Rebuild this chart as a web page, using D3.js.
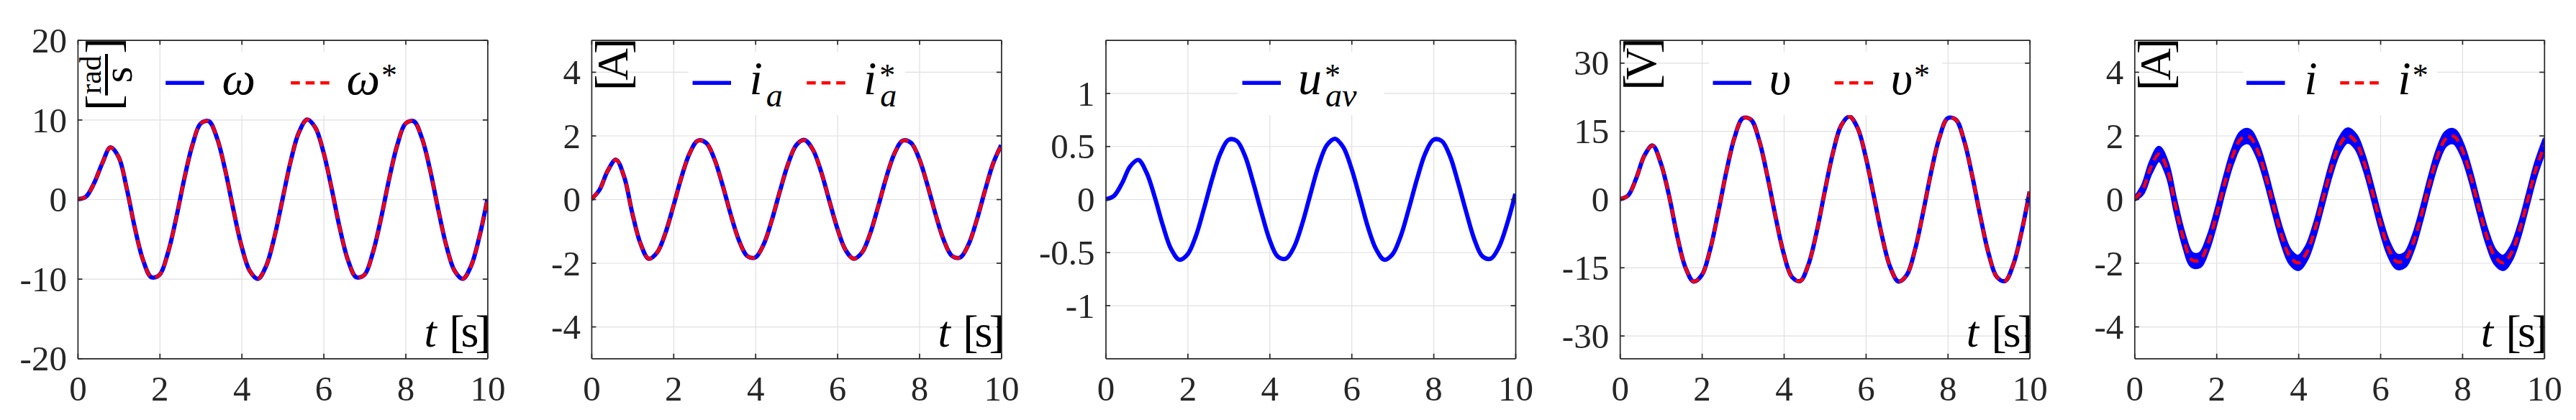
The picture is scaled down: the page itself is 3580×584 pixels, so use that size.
<!DOCTYPE html>
<html><head><meta charset="utf-8">
<script src="https://cdn.jsdelivr.net/npm/d3@7"></script>
<style>
body{margin:0;background:#fff}
svg{display:block}
svg text, svg tspan{font-family:"Liberation Serif","Times New Roman","DejaVu Serif",serif;}
</style>
</head><body>
<svg id="chart" width="3580" height="584"></svg>
<script>
// ---------------- data ----------------
const time = [0,0.2,0.4,0.6,0.8,1.0,1.2,1.4,1.6,1.8,2.0,2.2,2.4,2.6,2.8,3.0,3.2,3.4,3.6,3.8,4.0,4.2,4.4,4.6,4.8,5.0,5.2,5.4,5.6,5.8,6.0,6.2,6.4,6.6,6.8,7.0,7.2,7.4,7.6,7.8,8.0,8.2,8.4,8.6,8.8,9.0,9.2,9.4,9.6,9.8,10.0];

const omega    = [0,0.3,2.0,4.5,6.5,5.3,1.3,-3.7,-7.7,-9.8,-9.5,-6.8,-2.5,2.5,6.8,9.5,9.8,7.7,3.7,-1.3,-5.9,-9.0,-10.0,-8.4,-4.8,0,4.8,8.4,10.0,9.0,5.9,1.3,-3.7,-7.7,-9.8,-9.5,-6.8,-2.5,2.5,6.8,9.5,9.8,7.7,3.7,-1.3,-5.9,-9.0,-10.0,-8.4,-4.8,0];
const omegaRef = [0,0.3,2.0,4.5,6.5,5.3,1.3,-3.7,-7.7,-9.8,-9.5,-6.8,-2.5,2.5,6.8,9.5,9.8,7.7,3.7,-1.3,-5.9,-9.0,-10.0,-8.4,-4.8,0,4.8,8.4,10.0,9.0,5.9,1.3,-3.7,-7.7,-9.8,-9.5,-6.8,-2.5,2.5,6.8,9.5,9.8,7.7,3.7,-1.3,-5.9,-9.0,-10.0,-8.4,-4.8,0];

const iA    = [0,0.3,0.9,1.24,0.7,-0.45,-1.4,-1.87,-1.68,-1.09,-0.22,0.70,1.45,1.84,1.77,1.27,0.45,-0.48,-1.29,-1.78,-1.83,-1.43,-0.67,0.25,1.11,1.70,1.86,1.57,0.89,-0.02,-0.91,-1.59,-1.87,-1.68,-1.09,-0.22,0.70,1.45,1.84,1.77,1.27,0.45,-0.48,-1.29,-1.78,-1.83,-1.43,-0.67,0.25,1.11,1.70];
const iARef = [0,0.3,0.9,1.24,0.7,-0.45,-1.4,-1.87,-1.68,-1.09,-0.22,0.70,1.45,1.84,1.77,1.27,0.45,-0.48,-1.29,-1.78,-1.83,-1.43,-0.67,0.25,1.11,1.70,1.86,1.57,0.89,-0.02,-0.91,-1.59,-1.87,-1.68,-1.09,-0.22,0.70,1.45,1.84,1.77,1.27,0.45,-0.48,-1.29,-1.78,-1.83,-1.43,-0.67,0.25,1.11,1.70];

const uAvRef = [0,0.03,0.15,0.31,0.37,0.25,0.02,-0.25,-0.47,-0.57,-0.52,-0.35,-0.09,0.19,0.43,0.56,0.55,0.41,0.16,-0.12,-0.38,-0.54,-0.56,-0.45,-0.23,0.05,0.32,0.51,0.57,0.49,0.29,0.02,-0.26,-0.47,-0.57,-0.52,-0.35,-0.09,0.19,0.43,0.56,0.55,0.41,0.16,-0.12,-0.38,-0.54,-0.56,-0.45,-0.23,0.05];

const volt    = [0,0.8,4.6,9.6,11.8,7.9,0.8,-8.1,-15.0,-18.1,-16.7,-11.2,-2.9,6.1,13.6,17.8,17.5,12.9,5.1,-3.9,-12.0,-17.1,-18.0,-14.4,-7.3,1.7,10.2,16.2,18.2,15.7,9.3,0.6,-8.2,-15.0,-18.1,-16.7,-11.2,-2.9,6.1,13.6,17.8,17.5,12.9,5.1,-3.9,-12.0,-17.1,-18.0,-14.4,-7.3,1.7];
const voltRef = [0,0.8,4.6,9.6,11.8,7.9,0.8,-8.1,-15.0,-18.1,-16.7,-11.2,-2.9,6.1,13.6,17.8,17.5,12.9,5.1,-3.9,-12.0,-17.1,-18.0,-14.4,-7.3,1.7,10.2,16.2,18.2,15.7,9.3,0.6,-8.2,-15.0,-18.1,-16.7,-11.2,-2.9,6.1,13.6,17.8,17.5,12.9,5.1,-3.9,-12.0,-17.1,-18.0,-14.4,-7.3,1.7];

const iMeas = [0,0.3,1.0,1.42,0.95,-0.2,-1.25,-1.9,-1.91,-1.38,-0.51,0.49,1.36,1.90,1.97,1.55,0.75,-0.24,-1.17,-1.81,-2.00,-1.69,-0.97,-0.01,0.95,1.68,2.00,1.81,1.18,0.26,-0.73,-1.54,-1.96,-1.91,-1.38,-0.51,0.49,1.36,1.90,1.97,1.55,0.75,-0.24,-1.17,-1.81,-2.00,-1.69,-0.97,-0.01,0.95,1.68];
const iRef  = [0,0.3,1.0,1.42,0.95,-0.2,-1.25,-1.9,-1.91,-1.38,-0.51,0.49,1.36,1.90,1.97,1.55,0.75,-0.24,-1.17,-1.81,-2.00,-1.69,-0.97,-0.01,0.95,1.68,2.00,1.81,1.18,0.26,-0.73,-1.54,-1.96,-1.91,-1.38,-0.51,0.49,1.36,1.90,1.97,1.55,0.75,-0.24,-1.17,-1.81,-2.00,-1.69,-0.97,-0.01,0.95,1.68];
// half-height of the switching ripple band around the measured current
const iRipple = [0.02,0.12,0.18,0.2,0.2,0.2,0.2,0.2,0.2,0.2,0.2,0.2,0.2,0.2,0.2,0.2,0.2,0.2,0.2,0.2,0.2,0.2,0.2,0.2,0.2,0.2,0.2,0.2,0.2,0.2,0.2,0.2,0.2,0.2,0.2,0.2,0.2,0.2,0.2,0.2,0.2,0.2,0.2,0.2,0.2,0.2,0.2,0.2,0.2,0.2,0.2];

const xTicks = [0,2,4,6,8,10];
const yTicksOmega = [-20,-10,0,10,20];
const yTicksIa    = [-4,-2,0,2,4];
const yTicksUav   = [-1,-0.5,0,0.5,1];
const yTicksVolt  = [-30,-15,0,15,30];
const yTicksI     = [-4,-2,0,2,4];
const yLimOmega = [-20,20], yLimIa = [-5,5], yLimUav = [-1.5,1.5], yLimVolt = [-35,35], yLimI = [-5,5];

// ---------------- layout / style ----------------
const W = 3580, H = 584;
const TOP = 55.7, BOT = 498.3, PW = 569.5;
const LEFTS = [107.9, 821.9, 1536.5, 2251.2, 2966.3];
const FONT = '"Liberation Serif","Times New Roman","DejaVu Serif",serif';
const AX = '#262626', GRID = '#dfdfdf', BLUE = '#0000ff', RED = '#ff0000';
const DASH = '12.5,8';

const panels = [
  { ylim: yLimOmega, yticks: yTicksOmega,
    series: [{ v: omega, kind: 'solid' }, { v: omegaRef, kind: 'dash' }],
    legend: { box: [115, 452], items: [
      { kind: 'solid', lx: 122.3, tx: 200.5, main: 'ω' },
      { kind: 'dash',  lx: 296.3, tx: 373.5, main: 'ω', sup: '*' }] },
    unit: { type: 'frac', cx: 40.1, cy: 103 }, tlabel: true },
  { ylim: yLimIa, yticks: yTicksIa,
    series: [{ v: iA, kind: 'solid' }, { v: iARef, kind: 'dash' }],
    legend: { box: [135, 436], items: [
      { kind: 'solid', lx: 140.6, tx: 219.5, main: 'i', sub: 'a' },
      { kind: 'dash',  lx: 299.3, tx: 378,   main: 'i', sub: 'a', sup: '*' }] },
    unit: { type: 'br', text: 'A', cx: 33.6, cy: 89.3 }, tlabel: true },
  { ylim: yLimUav, yticks: yTicksUav,
    series: [{ v: uAvRef, kind: 'solid' }],
    legend: { box: [184, 387], items: [
      { kind: 'solid', lx: 190, tx: 267.5, main: 'u', sub: 'av', sup: '*' }] },
    unit: null, tlabel: false },
  { ylim: yLimVolt, yticks: yTicksVolt,
    series: [{ v: volt, kind: 'solid' }, { v: voltRef, kind: 'dash' }],
    legend: { box: [124, 448], items: [
      { kind: 'solid', lx: 129.3, tx: 207.5, main: 'υ' },
      { kind: 'dash',  lx: 298.4, tx: 376.5, main: 'υ', sup: '*' }] },
    unit: { type: 'br', text: 'V', cx: 34, cy: 88.8 }, tlabel: true },
  { ylim: yLimI, yticks: yTicksI,
    series: [{ v: iMeas, kind: 'band', r: iRipple }, { v: iRef, kind: 'dash' }],
    legend: { box: [151, 421], items: [
      { kind: 'solid', lx: 155.7, tx: 236, main: 'i' },
      { kind: 'dash',  lx: 286,   tx: 366, main: 'i', sup: '*' }] },
    unit: { type: 'br', text: 'A', cx: 33.7, cy: 89.3 }, tlabel: true }
];

const svg = d3.select('#chart');
svg.append('rect').attr('width', W).attr('height', H).attr('fill', '#fff');
const defs = svg.append('defs');

function styleAxis(sel, strokeColor, width) {
  sel.attr('font-family', null).attr('font-size', 49).attr('color', AX);
  sel.selectAll('line').attr('stroke', strokeColor).attr('stroke-width', width);
  sel.selectAll('path').attr('stroke', strokeColor).attr('stroke-width', width);
  sel.selectAll('text').attr('fill', AX).style('font-family', FONT).style('font-size', '49px');
}
// one <text> made of absolutely placed pieces: [str, x, y, size, italic, anchor, letterSpacing]
function composite(parent, pieces) {
  const t = parent.append('text').attr('fill', '#000').style('font-family', FONT);
  pieces.forEach(pc => {
    const s = t.append('tspan').attr('x', pc[1]).attr('y', pc[2])
      .style('font-size', pc[3] + 'px').style('font-style', pc[4] ? 'italic' : 'normal')
      .attr('text-anchor', pc[5] || 'start').text(pc[0]);
    if (pc[6] != null) s.style('letter-spacing', pc[6] + 'px');
  });
  return t;
}
function measure(parent, str, size, italic) {
  const t = parent.append('text').style('font-family', FONT).style('font-size', size + 'px')
    .style('font-style', italic ? 'italic' : 'normal').text(str);
  const w = t.node().getComputedTextLength();
  t.remove();
  return w;
}

panels.forEach((p, k) => {
  const L = LEFTS[k], R = L + PW;
  const x = d3.scaleLinear().domain([0, 10]).range([L, R]);
  const y = d3.scaleLinear().domain(p.ylim).range([BOT, TOP]);
  const g = svg.append('g');

  // grid
  const gx = g.append('g').attr('transform', `translate(0,${BOT})`)
    .call(d3.axisBottom(x).tickValues(xTicks.slice(1, -1)).tickSize(-(BOT - TOP)).tickFormat(''));
  gx.select('.domain').remove();
  gx.selectAll('line').attr('stroke', GRID).attr('stroke-width', 1.2);
  const gy = g.append('g').attr('transform', `translate(${L},0)`)
    .call(d3.axisLeft(y).tickValues(p.yticks).tickSize(-PW).tickFormat(''));
  gy.select('.domain').remove();
  gy.selectAll('line').attr('stroke', GRID).attr('stroke-width', 1.2);

  // curves
  const clipId = 'clip' + k;
  defs.append('clipPath').attr('id', clipId).append('rect')
    .attr('x', L).attr('y', TOP).attr('width', PW).attr('height', BOT - TOP);
  const cg = g.append('g').attr('clip-path', `url(#${clipId})`);
  const line = d3.line().x((d, i) => x(time[i])).y(d => y(d)).curve(d3.curveCatmullRom);
  p.series.forEach(s => {
    if (s.kind === 'band') {
      const area = d3.area().x((d, i) => x(time[i]))
        .y0((d, i) => y(d - s.r[i])).y1((d, i) => y(d + s.r[i])).curve(d3.curveCatmullRom);
      cg.append('path').attr('d', area(s.v)).attr('fill', BLUE)
        .attr('stroke', BLUE).attr('stroke-width', 5).attr('stroke-linejoin', 'round');
      cg.append('path').attr('d', line(s.v)).attr('fill', 'none')
        .attr('stroke', BLUE).attr('stroke-width', 6);
    } else if (s.kind === 'solid') {
      cg.append('path').attr('d', line(s.v)).attr('fill', 'none')
        .attr('stroke', BLUE).attr('stroke-width', 6).attr('stroke-linejoin', 'round');
    } else {
      cg.append('path').attr('d', line(s.v)).attr('fill', 'none')
        .attr('stroke', RED).attr('stroke-width', 4.5).attr('stroke-dasharray', DASH);
    }
  });

  // axes (box + inward ticks on all sides)
  const ax = g.append('g').attr('transform', `translate(0,${BOT})`)
    .call(d3.axisBottom(x).tickValues(xTicks).tickSize(-6.5).tickSizeOuter(0));
  styleAxis(ax, AX, 1.7);
  ax.selectAll('text').attr('y', 59.2).attr('dy', null);
  const axT = g.append('g').attr('transform', `translate(0,${TOP})`)
    .call(d3.axisTop(x).tickValues(xTicks).tickSize(-6.5).tickSizeOuter(0).tickFormat(''));
  styleAxis(axT, AX, 1.7);
  const ay = g.append('g').attr('transform', `translate(${L},0)`)
    .call(d3.axisLeft(y).tickValues(p.yticks).tickSize(-6.5).tickSizeOuter(0).tickPadding(15).tickFormat(d => String(d)));
  styleAxis(ay, AX, 1.7);
  ay.selectAll('text').attr('x', -15).attr('dy', '0.34em');
  const ayR = g.append('g').attr('transform', `translate(${R},0)`)
    .call(d3.axisRight(y).tickValues(p.yticks).tickSize(-6.5).tickSizeOuter(0).tickFormat(''));
  styleAxis(ayR, AX, 1.7);

  // legend
  const lg = g.append('g');
  lg.append('rect').attr('x', L + p.legend.box[0]).attr('y', 72)
    .attr('width', p.legend.box[1] - p.legend.box[0]).attr('height', 88).attr('fill', '#fff');
  const LY = 115.3, TB = 131;
  p.legend.items.forEach(it => {
    const l = lg.append('line').attr('x1', L + it.lx).attr('x2', L + it.lx + 53.5)
      .attr('y1', LY).attr('y2', LY);
    if (it.kind === 'solid') l.attr('stroke', BLUE).attr('stroke-width', 5.5);
    else l.attr('stroke', RED).attr('stroke-width', 4.5).attr('stroke-dasharray', DASH);
    const x0 = L + it.tx;
    const w = measure(lg, it.main, 66, true);
    const pieces = [[it.main, x0, TB, 66, true]];
    if (it.sup) pieces.push([it.sup, x0 + w + (it.sub ? 4 : 2), TB - 12.5, 44, false]);
    if (it.sub) pieces.push([it.sub, x0 + w + 5, TB + 17, 46, true]);
    composite(lg, pieces);
  });

  // unit label (rotated)
  if (p.unit) {
    const u = g.append('g').attr('transform', `translate(${L + p.unit.cx},${p.unit.cy}) rotate(-90)`);
    if (p.unit.type === 'br') {
      composite(u, [['[', -37, 18, 68], [p.unit.text, 0, 16, 62, false, 'middle'], [']', 14, 18, 68]]);
    } else {
      u.append('line').attr('x1', -29.7).attr('x2', 28).attr('y1', 0).attr('y2', 0)
        .attr('stroke', '#000').attr('stroke-width', 4);
      composite(u, [['[', -51, 18, 68], ['rad', -1, -8, 42, false, 'middle'],
                    ['s', -1, 35, 58, false, 'middle'], [']', 28.3, 18, 68]]);
    }
  }

  // time label
  if (p.tlabel) {
    composite(g, [['t', R - 88, 481.7, 62, true], ['[s]', R - 53.2, 481.7, 64, false, 'start', -5]]);
  }
});
</script>
</body></html>
